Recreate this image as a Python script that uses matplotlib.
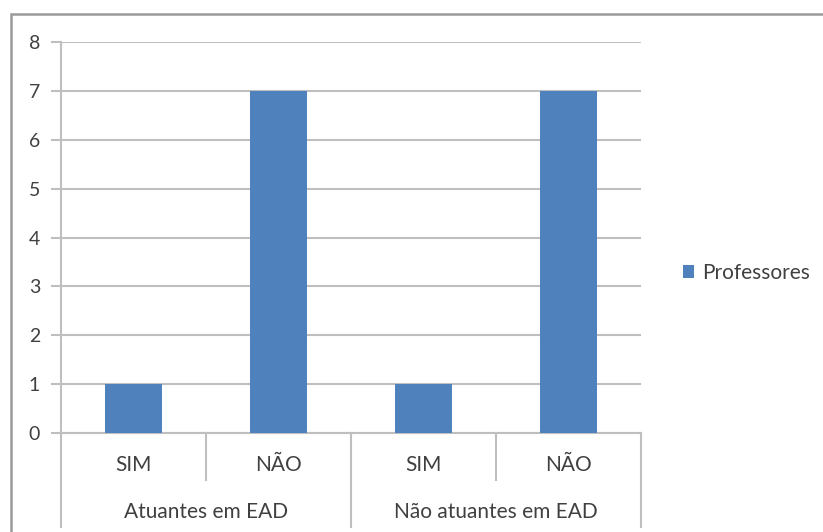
import matplotlib.pyplot as plt
from matplotlib.patches import Rectangle

# data
categories = ['SIM', 'NÃO', 'SIM', 'NÃO']
groups = ['Atuantes em EAD', 'Não atuantes em EAD']
group_size = 2
professores = [1, 7, 1, 7]

plt.rcParams['font.family'] = ['Lato', 'DejaVu Sans']
text_color = '#404040'
grid_color = '#bfbfbf'
bar_color = '#4F81BD'

fig = plt.figure(figsize=(8.23, 5.32), dpi=100)
ax = fig.add_axes([0.0741, 0.186, 0.7048, 0.735])

# chart border (runs off the right and bottom edges like the original)
fig.patches.append(Rectangle((11 / 823, -0.05), 1.0, 1 - 14 / 532 + 0.05,
                             transform=fig.transFigure, fill=False,
                             edgecolor='#9a9a9a', linewidth=1.8))

x = list(range(len(categories)))
ax.bar(x, professores, width=0.39, color=bar_color, zorder=3, label='Professores')

ax.set_xlim(-0.5, len(categories) - 0.5)
ax.set_ylim(0, 8)
ax.set_yticks(range(0, 9))
ax.yaxis.grid(True, color=grid_color, linewidth=1.5, zorder=0)
ax.tick_params(axis='y', length=7, width=1.5, color=grid_color, pad=8,
               labelsize=14, labelcolor=text_color)
ax.set_xticks([])

for side in ['top', 'right']:
    ax.spines[side].set_visible(False)
ax.spines['left'].set_color(grid_color)
ax.spines['left'].set_linewidth(1.5)
ax.spines['bottom'].set_color(grid_color)
ax.spines['bottom'].set_linewidth(1.5)

# multi-level category axis
tr = ax.get_xaxis_transform()
for i, cat in enumerate(categories):
    ax.text(i, -0.082, cat, transform=tr, ha='center', va='center',
            fontsize=15, color=text_color)
for i, g in enumerate(groups):
    center = i * group_size + (group_size - 1) / 2
    ax.text(center, -0.202, g, transform=tr, ha='center', va='center',
            fontsize=15, color=text_color)

for b in range(len(categories) + 1):
    xb = b - 0.5
    y_end = -0.24 if b % group_size == 0 else -0.12
    ax.plot([xb, xb], [0, y_end], transform=tr, color=grid_color,
            linewidth=1.5, clip_on=False)

leg = ax.legend(loc='center left', bbox_to_anchor=(1.04, 0.409), frameon=False,
                fontsize=15, handlelength=0.55, handleheight=0.55,
                handletextpad=0.35)
for t in leg.get_texts():
    t.set_color(text_color)

fig.savefig('out.png', dpi=100)
